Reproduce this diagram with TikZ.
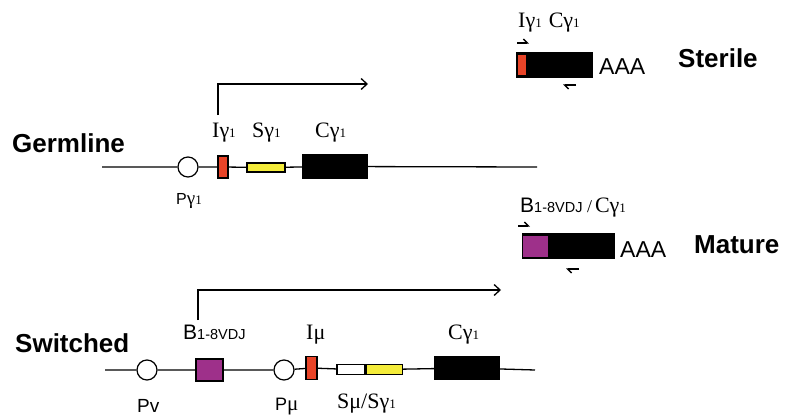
\documentclass[tikz,border=0pt]{standalone}
\usepackage{fontspec}
\setmainfont{Liberation Serif}
\setsansfont{Liberation Sans}
\usetikzlibrary{arrows.meta}
\definecolor{exred}{RGB}{232,68,40}
\definecolor{exyel}{RGB}{244,236,58}
\definecolor{expur}{RGB}{158,48,138}
\newcommand{\subnum}[1]{{\fontsize{13}{13}\selectfont #1}}
\begin{document}
\begin{tikzpicture}[x=1pt,y=-1pt,
  dna/.style={line width=1.3pt},
  exon/.style={draw=black,line width=1.2pt,inner sep=0pt,minimum width=#1},
  prom/.style={circle,draw=black,fill=white,line width=1.2pt,minimum size=20pt,inner sep=0pt},
  lbl/.style={anchor=base west,inner sep=0pt,font=\fontsize{22}{22}\selectfont},
  sflbl/.style={anchor=base west,inner sep=0pt,font=\sffamily\fontsize{19}{19}\selectfont},
  head/.style={anchor=base west,inner sep=0pt,font=\sffamily\bfseries\fontsize{26}{26}\selectfont},
  polya/.style={anchor=base west,inner sep=0pt,font=\sffamily\fontsize{23}{23}\selectfont},
  tx/.style={line width=1.3pt,-{Straight Barb[length=6pt,width=11pt,line width=1.3pt]}},
  primer/.style={line width=1.4pt,-{Straight Barb[harpoon,length=4pt,width=8pt,line width=1.4pt]}}]
\useasboundingbox (0,0) rectangle (785,420);

% ---------- germline locus ----------
\coordinate (g0) at (102,167);
\coordinate (g1) at (537,167);
\node[prom] (pg) at (188,167) {};
\node[exon=10pt,minimum height=22pt,fill=exred] (ig) at (223,167) {};
\node[exon=38pt,minimum height=9pt,fill=exyel] (sg) at (266,167.5) {};
\node[exon=64pt,minimum height=23pt,fill=black] (cg) at (335,166.5) {};
\draw[dna] (g0) -- (pg) -- (ig) -- (sg) -- (cg) -- (g1);

\node[head] (hgerm) at (12,152) {Germline};
\node[lbl] (lig) at (212,137) {Iγ\subnum{1}};
\node[lbl] (lsg) at (252,137) {Sγ\subnum{1}};
\node[lbl] (lcg) at (315,137) {Cγ\subnum{1}};
\node[anchor=base west,inner sep=0pt,font=\fontsize{19}{19}\selectfont] (lpg) at (176,204) {\textsf{\fontsize{16}{16}\selectfont P}γ\subnum{1}};

\coordinate (gt0) at (218,115);
\coordinate (gt1) at (368,84);
\draw[tx] (gt0) |- (gt1);

% ---------- sterile transcript ----------
\node[exon=76pt,minimum height=24pt,fill=black,anchor=west] (st) at (516,65) {};
\node[draw=none,fill=exred,minimum width=8pt,minimum height=20pt,inner sep=0pt] (stI) at (522,65) {};
\node[lbl] (lst) at (518,28) {Iγ\subnum{1}\hspace{7pt}Cγ\subnum{1}};
\node[polya] (aaa1) at (599,75) {AAA};
\node[head] (hst) at (678,68) {Sterile};
\coordinate (sf0) at (517,43);
\coordinate (sf1) at (529,43);
\coordinate (sr0) at (576,85);
\coordinate (sr1) at (563,85);
\draw[primer] (sf0) -- (sf1);
\draw[primer] (sr0) -- (sr1);

% ---------- mature transcript ----------
\node[exon=92pt,minimum height=24pt,fill=black,anchor=west] (mt) at (522,246) {};
\node[draw=none,fill=expur,minimum width=25pt,minimum height=21pt,inner sep=0pt] (mtV) at (535,246) {};
\node[anchor=base west,inner sep=0pt] (lmt) at (520,212)
  {\sffamily\fontsize{21}{21}\selectfont B\fontsize{14.5}{14.5}\selectfont 1-8VDJ\rmfamily\fontsize{18}{18}\selectfont\ /\,\fontsize{22}{22}\selectfont Cγ\subnum{1}};
\node[polya] (aaa2) at (620,257) {AAA};
\node[head] (hmt) at (694,253) {Mature};
\coordinate (mf0) at (518,226);
\coordinate (mf1) at (530,226);
\coordinate (mr0) at (579,269);
\coordinate (mr1) at (566,269);
\draw[primer] (mf0) -- (mf1);
\draw[primer] (mr0) -- (mr1);

% ---------- switched locus ----------
\coordinate (s0) at (105,370);
\coordinate (s1) at (535,370);
\node[prom] (pv) at (147,370) {};
\node[exon=27pt,minimum height=22pt,fill=expur] (vdj) at (209.5,370) {};
\node[prom] (pmu) at (284,370) {};
\node[exon=11pt,minimum height=23pt,fill=exred] (imu) at (311.5,368) {};
\node[exon=28pt,minimum height=10pt,fill=white] (smu) at (351,369.5) {};
\node[exon=36pt,minimum height=10pt,fill=exyel,anchor=west] (sg2) at (smu.east) {};
\node[exon=64pt,minimum height=23pt,fill=black] (cg2) at (467,368) {};
\draw[dna] (s0) -- (pv) -- (vdj) -- (pmu) -- (imu) -- (smu);
\draw[dna] (sg2) -- (cg2) -- (s1);

\node[head] (hsw) at (15,352) {Switched};
\node[anchor=base west,inner sep=0pt] (lvdj) at (183,339)
  {\sffamily\fontsize{21}{21}\selectfont B\fontsize{14.5}{14.5}\selectfont 1-8VDJ};
\node[lbl] (limu) at (306,339) {Iμ};
\node[lbl] (lcg2) at (448,339) {Cγ\subnum{1}};
\node[lbl] (lsw) at (337,408) {Sμ/Sγ\subnum{1}};
\node[sflbl] (lpv) at (137,412) {Pv};
\node[anchor=base west,inner sep=0pt,font=\fontsize{21}{21}\selectfont] (lpmu) at (275,410) {\textsf{\fontsize{18}{18}\selectfont P}μ};

\coordinate (st0) at (198,320);
\coordinate (st1) at (501,290);
\draw[tx] (st0) |- (st1);
\end{tikzpicture}
\end{document}
